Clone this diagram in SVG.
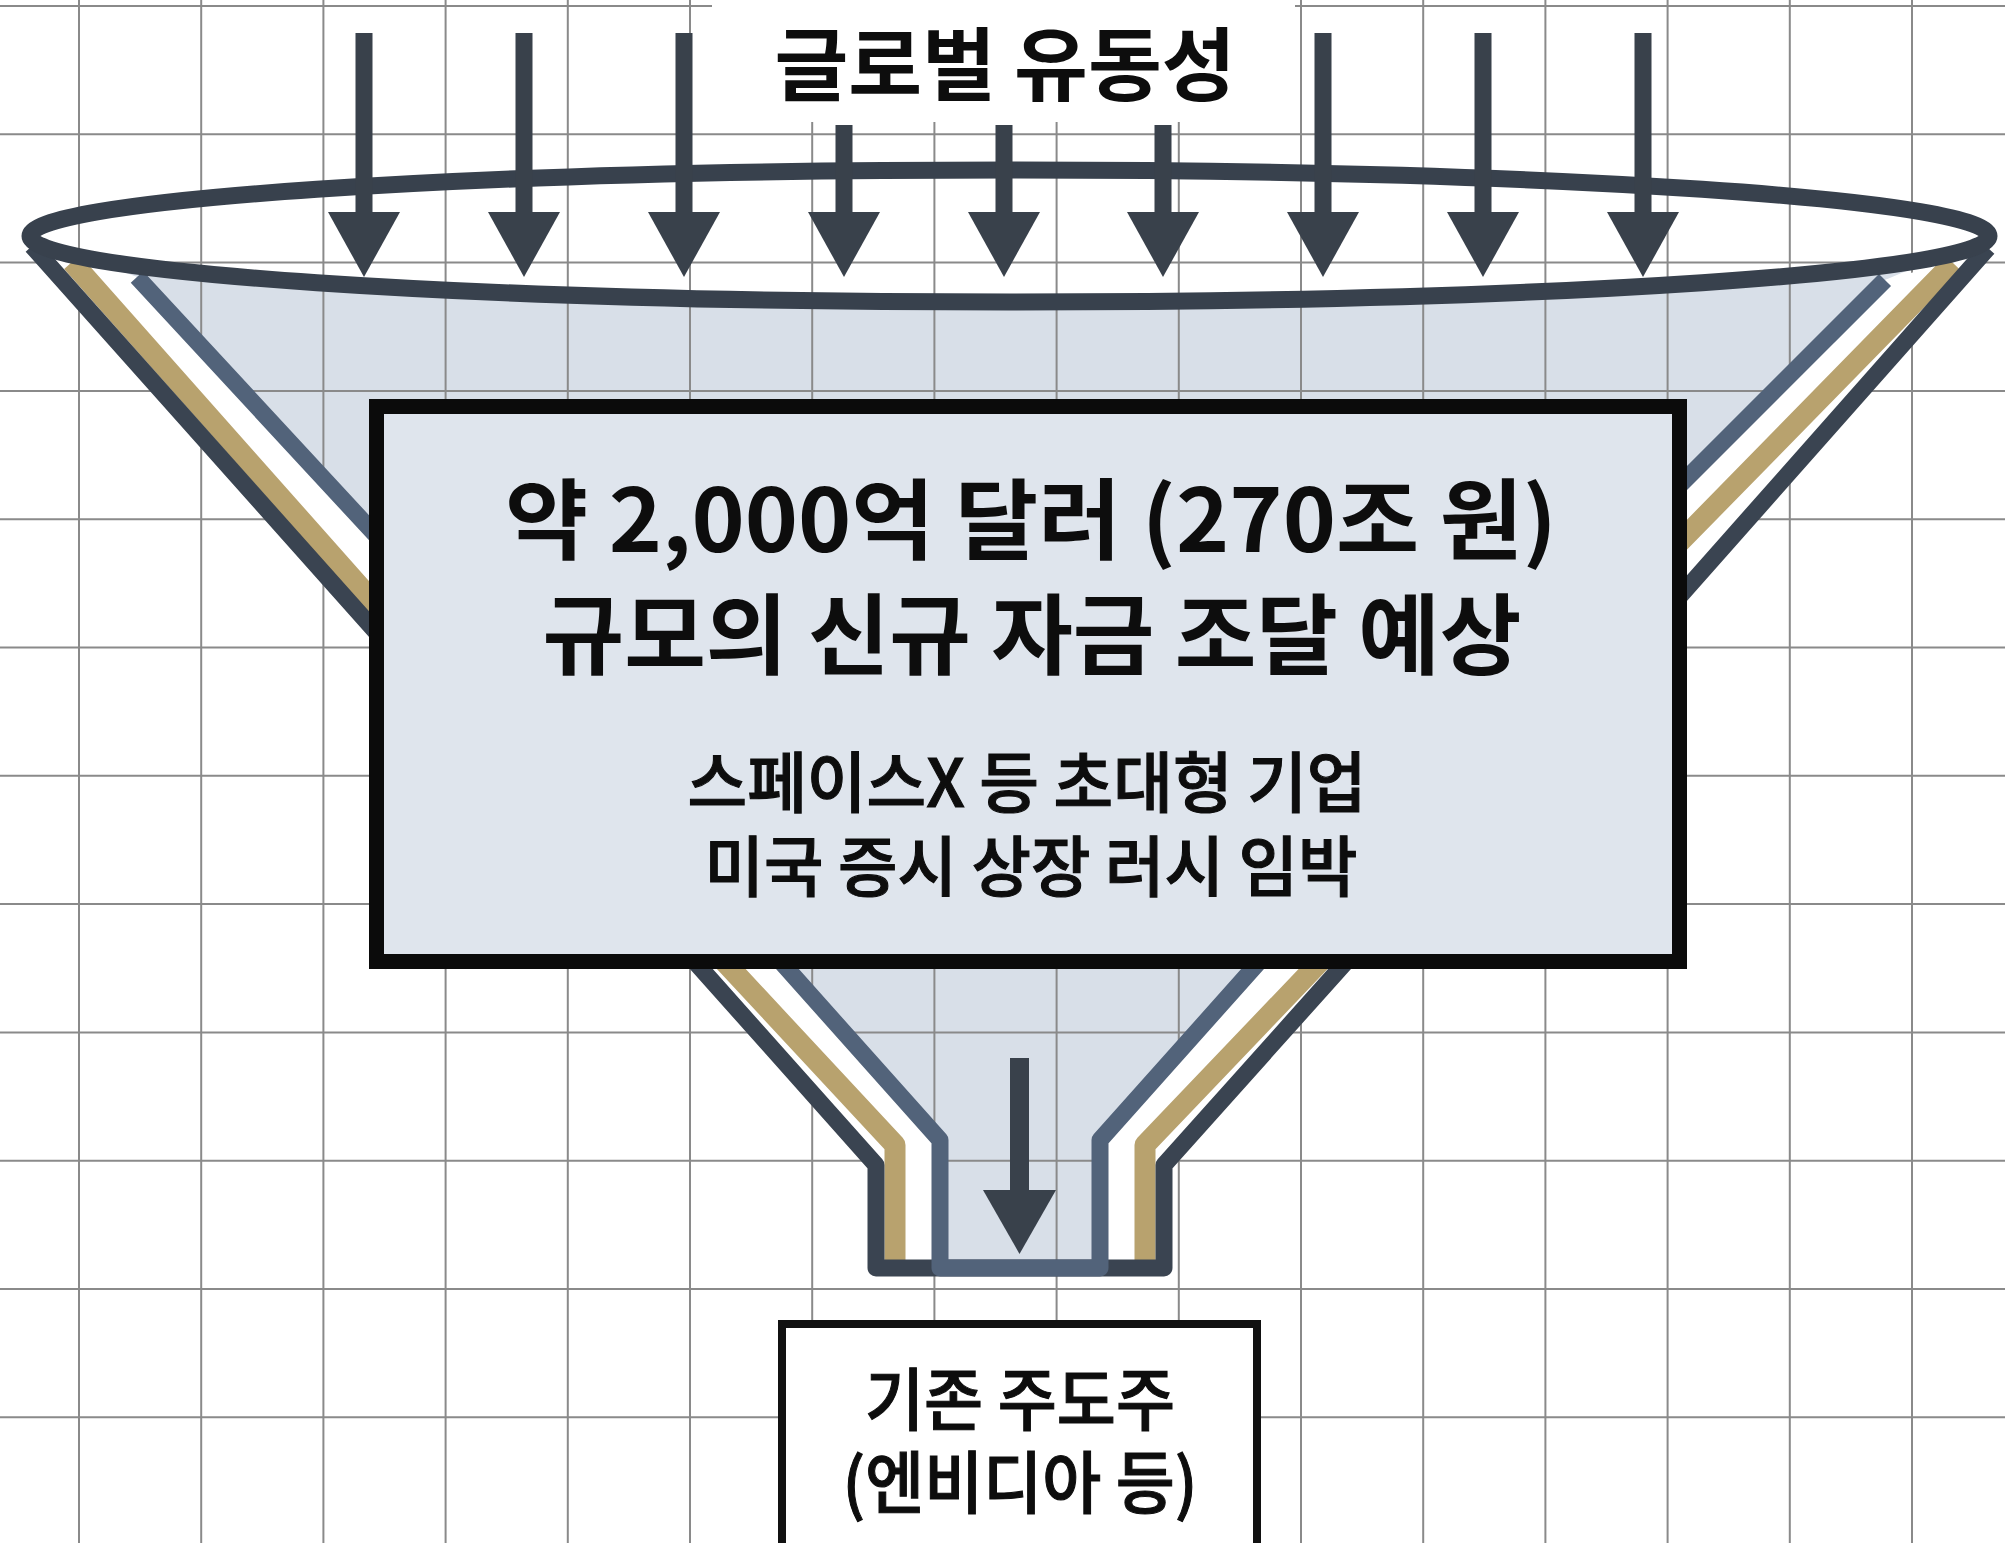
<svg xmlns="http://www.w3.org/2000/svg" width="2005" height="1543" viewBox="0 0 2005 1543">
<defs>
<style>
.grid line{stroke:#8a8a8a;stroke-width:2}
.wallfill{fill:#ffffff;stroke:none}
.tan{fill:none;stroke:#b8a26e;stroke-width:21;stroke-linejoin:round}
.dark{fill:none;stroke:#3a4451;stroke-width:17;stroke-linejoin:round}
.blue{fill:none;stroke:#52637a;stroke-width:17;stroke-linejoin:round}
.arrow{fill:#39414b}
.t{font-family:"Noto Sans CJK KR","Noto Sans",sans-serif;fill:#0d0d0d;text-anchor:middle}
.b{font-weight:700}
.m{font-weight:500;stroke:#0d0d0d;stroke-width:1.1}
</style>
</defs>
<rect x="0" y="0" width="2005" height="1543" fill="#ffffff"/>
<g id="funnel-body">
<polygon points="30,236 137,277 385,545 766,945 940,1140 940,1268 1100,1268 1100,1140 1274,945 1672,493 1885,280 1989,236" fill="#d8dfe8"/>
<ellipse cx="1009.5" cy="236" rx="979.5" ry="66" fill="#ffffff"/>
</g>
<g class="grid" id="grid">
<line x1="79" y1="0" x2="79" y2="1543"/>
<line x1="201.2" y1="0" x2="201.2" y2="1543"/>
<line x1="323.4" y1="0" x2="323.4" y2="1543"/>
<line x1="445.6" y1="0" x2="445.6" y2="1543"/>
<line x1="567.8" y1="0" x2="567.8" y2="1543"/>
<line x1="690" y1="0" x2="690" y2="1543"/>
<line x1="812.2" y1="0" x2="812.2" y2="1543"/>
<line x1="934.4" y1="0" x2="934.4" y2="1543"/>
<line x1="1056.6" y1="0" x2="1056.6" y2="1543"/>
<line x1="1178.8" y1="0" x2="1178.8" y2="1543"/>
<line x1="1301" y1="0" x2="1301" y2="1543"/>
<line x1="1423.2" y1="0" x2="1423.2" y2="1543"/>
<line x1="1545.4" y1="0" x2="1545.4" y2="1543"/>
<line x1="1667.6" y1="0" x2="1667.6" y2="1543"/>
<line x1="1789.8" y1="0" x2="1789.8" y2="1543"/>
<line x1="1912" y1="0" x2="1912" y2="1543"/>
<line x1="0" y1="6" x2="2005" y2="6"/>
<line x1="0" y1="134.3" x2="2005" y2="134.3"/>
<line x1="0" y1="262.6" x2="2005" y2="262.6"/>
<line x1="0" y1="390.9" x2="2005" y2="390.9"/>
<line x1="0" y1="519.2" x2="2005" y2="519.2"/>
<line x1="0" y1="647.5" x2="2005" y2="647.5"/>
<line x1="0" y1="775.8" x2="2005" y2="775.8"/>
<line x1="0" y1="904.1" x2="2005" y2="904.1"/>
<line x1="0" y1="1032.4" x2="2005" y2="1032.4"/>
<line x1="0" y1="1160.7" x2="2005" y2="1160.7"/>
<line x1="0" y1="1289" x2="2005" y2="1289"/>
<line x1="0" y1="1417.3" x2="2005" y2="1417.3"/>
</g>
<rect x="712" y="0" width="583" height="122" fill="#ffffff"/>
<g id="funnel-walls">
<polygon class="wallfill" points="32,250 385,642 680,945 876,1165 876,1268 940,1268 940,1140 766,945 385,545 137,277"/>
<polygon class="wallfill" points="1988,252 1672,605 1361,945 1164,1165 1164,1268 1100,1268 1100,1140 1274,945 1672,493 1885,280"/>
<polyline class="tan" points="72,262 385,615 709,945 895,1145 895,1262"/>
<polyline class="tan" points="1953,263 1672,550 1336,945 1145,1145 1145,1262"/>
<polyline class="dark" points="32,246 385,642 680,945 876,1165 876,1268 1164,1268 1164,1165 1361,945 1672,605 1988,248"/>
<polyline class="blue" points="137,277 385,545 766,945 940,1140 940,1268 1100,1268 1100,1140 1274,945 1672,493 1885,280"/>
</g>
<g id="funnel-rim">
<ellipse cx="1009.5" cy="236" rx="979.5" ry="66" fill="none" stroke="#38414d" stroke-width="17"/>
</g>
<g id="connectors">
<g class="arrow">
<rect x="355.5" y="33" width="17" height="182"/><polygon points="328,212 400,212 364,277"/>
<rect x="515.5" y="33" width="17" height="182"/><polygon points="488,212 560,212 524,277"/>
<rect x="675.5" y="33" width="17" height="182"/><polygon points="648,212 720,212 684,277"/>
<rect x="835.5" y="125" width="17" height="90"/><polygon points="808,212 880,212 844,277"/>
<rect x="995.5" y="125" width="17" height="90"/><polygon points="968,212 1040,212 1004,277"/>
<rect x="1154.5" y="125" width="17" height="90"/><polygon points="1127,212 1199,212 1163,277"/>
<rect x="1314.5" y="33" width="17" height="182"/><polygon points="1287,212 1359,212 1323,277"/>
<rect x="1474.5" y="33" width="17" height="182"/><polygon points="1447,212 1519,212 1483,277"/>
<rect x="1634.5" y="33" width="17" height="182"/><polygon points="1607,212 1679,212 1643,277"/>
<rect x="1010" y="1058" width="19" height="135"/><polygon points="983,1190 1056,1190 1019.5,1254"/>
</g>
</g>
<g id="title">
<text class="t b" x="1005" y="94" font-size="80" textLength="461" lengthAdjust="spacingAndGlyphs">글로벌 유동성</text>
</g>
<g id="main-box">
<rect x="376.5" y="406.5" width="1303" height="555" fill="#dfe5ed" stroke="#0b0b0b" stroke-width="15"/>
<text class="t b" x="1031" y="552" font-size="88" textLength="1052" lengthAdjust="spacingAndGlyphs">약 2,000억 달러 (270조 원)</text>
<text class="t b" x="1032" y="667" font-size="88" textLength="979" lengthAdjust="spacingAndGlyphs">규모의 신규 자금 조달 예상</text>
<text class="t m" x="1027" y="807" font-size="66" textLength="679" lengthAdjust="spacingAndGlyphs">스페이스X 등 초대형 기업</text>
<text class="t m" x="1031" y="891" font-size="66" textLength="653" lengthAdjust="spacingAndGlyphs">미국 증시 상장 러시 임박</text>
</g>
<g id="bottom-box">
<rect x="782" y="1324" width="475" height="300" fill="#ffffff" stroke="#111111" stroke-width="8"/>
<text class="t m" x="1020" y="1425" font-size="68" textLength="310" lengthAdjust="spacingAndGlyphs">기존 주도주</text>
<text class="t m" x="1020" y="1508" font-size="68" textLength="355" lengthAdjust="spacingAndGlyphs">(엔비디아 등)</text>
</g>
</svg>
